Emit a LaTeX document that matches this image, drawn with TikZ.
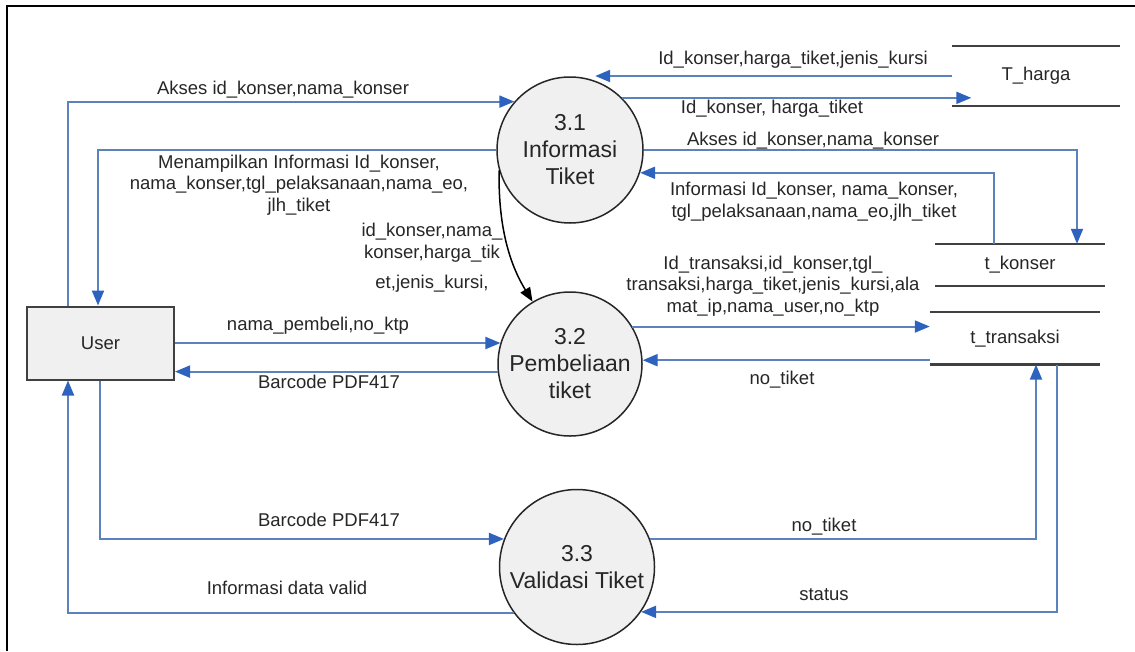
\documentclass[tikz,border=0pt]{standalone}
\usepackage{fontspec}
\setmainfont{Liberation Sans}
\usepackage{tikz}
\usetikzlibrary{positioning}
\usetikzlibrary{arrows.meta}

\definecolor{flowblue}{RGB}{92,130,190}
\definecolor{tipblue}{RGB}{45,98,190}
\definecolor{procgray}{RGB}{240,240,240}

\tikzset{
	proc/.style={circle, draw=black!85, line width=1.5pt, fill=procgray, minimum size=146pt,
				 inner sep=0pt, align=center, text=black!85, font=\fontsize{23}{27}\selectfont},
	entity/.style={rectangle, draw=black!75, line width=2pt, fill=procgray, minimum width=147pt,
				   minimum height=73pt, text=black!85, font=\fontsize{18.5}{22}\selectfont},
	store/.style={rectangle, inner sep=0pt, text=black!85, font=\fontsize{18.5}{22}\selectfont},
	storeline/.style={draw=black!75, line width=2.5pt},
	flow/.style={draw=flowblue, line width=2pt, -{Triangle[length=15pt,width=12pt,color=tipblue]}},
	blackflow/.style={draw=black, line width=1.5pt, -{Triangle[length=14pt,width=11pt]}},
	lbl/.style={inner sep=0pt, align=center, text=black!85, font=\fontsize{18.5}{21.5}\selectfont}
}

\begin{document}
\begin{tikzpicture}[x=1pt,y=-1pt]
					\useasboundingbox (0,0) rectangle (1135,651);
					\draw[line width=2pt] (7,651) -- (7,6) -- (1135,6);
					
					% User
					\node (U) [entity] at (100.5,343) {User};
					
					% processes
					\node (P31) [proc] at (570,150) {3.1\\Informasi\\Tiket};
					\node (P32) [proc, minimum size=144pt] at (570,364) {3.2\\Pembeliaan\\tiket};
					\node (P33) [proc, minimum size=155pt] at (577,567) {3.3\\Validasi Tiket};
					
					% data stores
					\node (Tharga) [store, minimum width=167pt, minimum height=60pt] at (1036,76) {T\_harga};
					\node (Tkonser) [store, minimum width=169pt, minimum height=42pt] at (1020,265) {t\_konser};
					\node (Ttransaksi) [store, minimum width=170pt, minimum height=52pt,
										below=26pt of Tkonser, xshift=-5pt] {t\_transaksi};
					
					\draw[storeline] (Tharga.north west) -- (Tharga.north east);
					\draw[storeline] (Tharga.south west) -- (Tharga.south east);
					\draw[storeline] (Tkonser.north west) -- (Tkonser.north east);
					\draw[storeline] (Tkonser.south west) -- (Tkonser.south east);
					\draw[storeline] (Ttransaksi.north west) -- (Ttransaksi.north east);
					\draw[storeline] (Ttransaksi.south west) -- (Ttransaksi.south east);
					
					% User <-> 3.1
					\draw[flow] ([xshift=-32.5pt]U.north) |- (P31.139);
					\draw[flow] (P31.west) -| ([xshift=-2.5pt]U.north);
					\node (Lakses) [lbl] at (283,90) {Akses id\_konser,nama\_konser};
					\node (Ltampil) [lbl] at (299,185) {Menampilkan Informasi Id\_konser,\\nama\_konser,tgl\_pelaksanaan,nama\_eo,\\jlh\_tiket};
					
					% 3.1 -> 3.2
					\draw[blackflow] (P31.196) .. controls (498,232) and (512,268) .. (P32.121);
					\node (Lharga) [lbl] at (432,258) {id\_konser,nama\_\\konser,harga\_tik\\[9pt]et,jenis\_kursi,};
					
					% User <-> 3.2
					\draw[flow] (U.east) -- (U.east -| P32.163);
					\draw[flow] (P32.186) -- (P32.186 -| U.east);
					\node (Lbeli) [lbl] at (318,326) {nama\_pembeli,no\_ktp};
					\node (Lbarcode) [lbl] at (329,382) {Barcode PDF417};
					
					% User <-> 3.3
					\draw[flow] ([xshift=-0.5pt]U.south) |- (P33.159);
					\draw[flow] (P33.216) -| ([xshift=-32.5pt]U.south);
					\node (Lbarcode2) [lbl] at (329,520) {Barcode PDF417};
					\node (Lvalid) [lbl] at (287,588) {Informasi data valid};
					
					% 3.1 <-> T_harga
					\coordinate (Hin) at ([xshift=19pt]Tharga.west);
					\draw[flow] (Tharga.west) -- (Tharga.west -| P31.70);
					\draw[flow] (P31.45) -- (P31.45 -| Hin);
					\node (Lhargaout) [lbl] at (793,60) {Id\_konser,harga\_tiket,jenis\_kursi};
					\node (Lhargain) [lbl] at (772,109) {Id\_konser, harga\_tiket};
					
					% 3.1 <-> t_konser
					\draw[flow] (P31.east) -| ([xshift=57pt]Tkonser.north);
					\draw[flow] ([xshift=-26pt]Tkonser.north) |- (P31.-18);
					\node (Lakses2) [lbl] at (813,141) {Akses id\_konser,nama\_konser};
					\node (Linfo) [lbl] at (814,201.5) {Informasi Id\_konser, nama\_konser,\\tgl\_pelaksanaan,nama\_eo,jlh\_tiket};
					
					% 3.2 <-> t_transaksi
					\draw[flow] (P32.31) -- (P32.31 -| Ttransaksi.west);
					\draw[flow] (Ttransaksi.west |- P32.3) -- (P32.3);
					\node (Ltrans) [lbl] at (773,286) {Id\_transaksi,id\_konser,tgl\_\\transaksi,harga\_tiket,jenis\_kursi,ala\\mat\_ip,nama\_user,no\_ktp};
					\node (Ltiket) [lbl] at (782,380) {no\_tiket};
					
					% 3.3 <-> t_transaksi
					\draw[flow] (P33.21) -| ([xshift=21pt]Ttransaksi.south);
					\draw[flow] ([xshift=42pt]Ttransaksi.south) |- (P33.-35);
					\node (Ltiket2) [lbl] at (824,527) {no\_tiket};
					\node (Lstatus) [lbl] at (824,595) {status};
				\end{tikzpicture}
\end{document}
